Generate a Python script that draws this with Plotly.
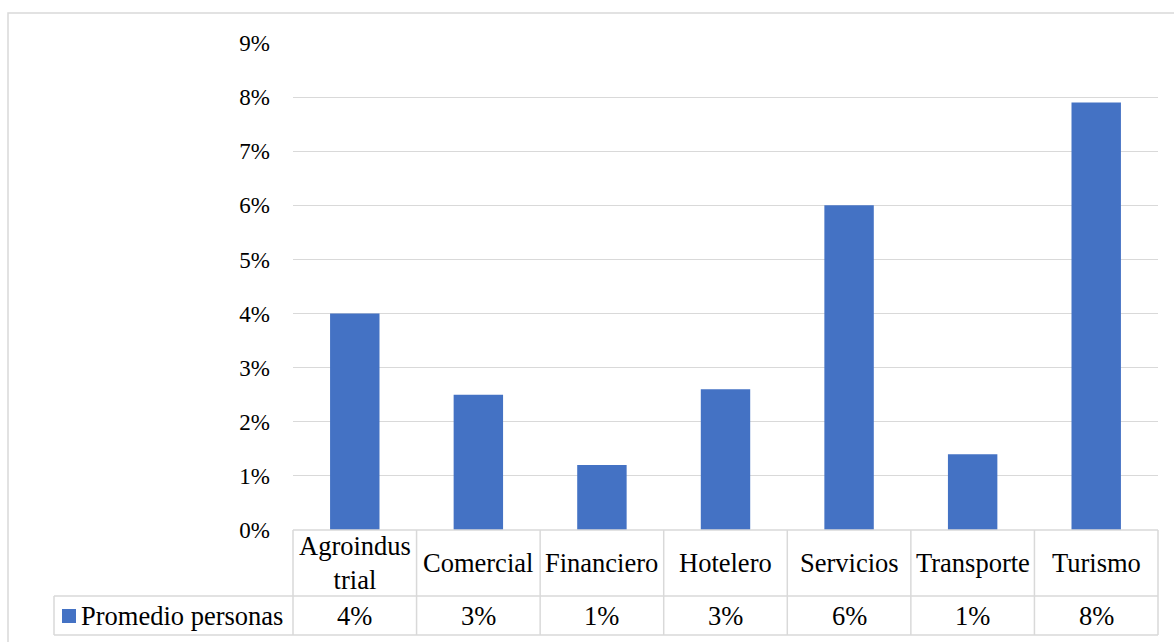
import plotly.graph_objects as go

categories = ["Agroindustrial", "Comercial", "Financiero", "Hotelero", "Servicios", "Transporte", "Turismo"]
category_labels = ["Agroindus<br>trial", "Comercial", "Financiero", "Hotelero", "Servicios", "Transporte", "Turismo"]
values = [4.0, 2.5, 1.2, 2.6, 6.0, 1.4, 7.9]
series_name = "Promedio personas"
y_ticks = [0, 1, 2, 3, 4, 5, 6, 7, 8, 9]

BAR = "#4472C4"
GRID = "#d9d9d9"
FONT = "'Liberation Serif', 'Times New Roman', 'DejaVu Serif', serif"
TXT = "#000000"

W, H = 1174, 642
ML, MR, MT, MB = 293, 16, 43, 112
pw = W - ML - MR
ph = H - MT - MB


def py(px):
    return (H - MB - px) / ph


def pxx(px):
    return (px - ML) / pw


row1_bot = py(596)
row2_bot = py(635)
legend_left = pxx(54)


def fmt(v):
    return f"{int(v + 0.5)}%"


fig = go.Figure()
fig.add_trace(go.Bar(
    x=categories, y=values, name=series_name,
    marker=dict(color=BAR, line=dict(width=0)),
    width=0.4, showlegend=False, hoverinfo="x+y",
))

shapes = []
line = dict(color=GRID, width=1.5)
shapes.append(dict(type="rect", xref="paper", yref="paper",
                   x0=pxx(8), x1=pxx(1185), y0=py(650), y1=py(13),
                   line=dict(color=GRID, width=1.5), fillcolor="rgba(0,0,0,0)", layer="below"))
shapes.append(dict(type="line", xref="x domain", yref="paper", x0=0, x1=1, y0=0, y1=0, line=line))
for yy in (row1_bot, row2_bot):
    shapes.append(dict(type="line", xref="paper", yref="paper", x0=legend_left, x1=1, y0=yy, y1=yy, line=line))
shapes.append(dict(type="line", xref="x domain", yref="paper", x0=0, x1=0, y0=row2_bot, y1=0, line=line))
shapes.append(dict(type="line", xref="x domain", yref="paper", x0=1, x1=1, y0=row2_bot, y1=0, line=line))
for i in range(len(categories) - 1):
    shapes.append(dict(type="line", xref="x", yref="paper", x0=i + 0.5, x1=i + 0.5,
                       y0=row2_bot, y1=0, line=line))
shapes.append(dict(type="line", xref="paper", yref="paper", x0=legend_left, x1=legend_left,
                   y0=row2_bot, y1=row1_bot, line=line))
shapes.append(dict(type="rect", xref="paper", yref="paper", x0=pxx(62), x1=pxx(76),
                   y0=py(623), y1=py(609), line=dict(width=0), fillcolor=BAR))

annotations = []
row1_mid = (0 + row1_bot) / 2
row2_mid = (row1_bot + row2_bot) / 2
FS = 26.5
for i, (lab, v) in enumerate(zip(category_labels, values)):
    annotations.append(dict(x=i, y=row1_mid, xref="x", yref="paper", text=lab, showarrow=False,
                            font=dict(family=FONT, size=FS, color=TXT), xanchor="center", yanchor="middle"))
    annotations.append(dict(x=i, y=row2_mid, xref="x", yref="paper", text=fmt(v), showarrow=False,
                            font=dict(family=FONT, size=FS, color=TXT), xanchor="center", yanchor="middle"))
annotations.append(dict(x=pxx(79), y=row2_mid, xref="paper", yref="paper", text=series_name,
                        showarrow=False, font=dict(family=FONT, size=FS, color=TXT),
                        xanchor="left", yanchor="middle"))

fig.update_layout(
    width=W, height=H,
    margin=dict(l=ML, r=MR, t=MT, b=MB, pad=0),
    paper_bgcolor="white", plot_bgcolor="white",
    shapes=shapes, annotations=annotations,
    font=dict(family=FONT, color=TXT),
    xaxis=dict(type="category", range=[-0.5, len(categories) - 0.5], showticklabels=False,
               showgrid=False, zeroline=False, showline=False, ticks=""),
    yaxis=dict(range=[0, 9], tickvals=y_ticks, ticktext=[f"{t}%" for t in y_ticks],
               showgrid=True, gridcolor=GRID, gridwidth=1.2, zeroline=False, showline=False,
               ticks="", ticklabelstandoff=22, tickfont=dict(family=FONT, size=23, color=TXT)),
)

fig.write_html("out.html", config={"displayModeBar": False},
               post_script="document.body.style.margin='0';")
